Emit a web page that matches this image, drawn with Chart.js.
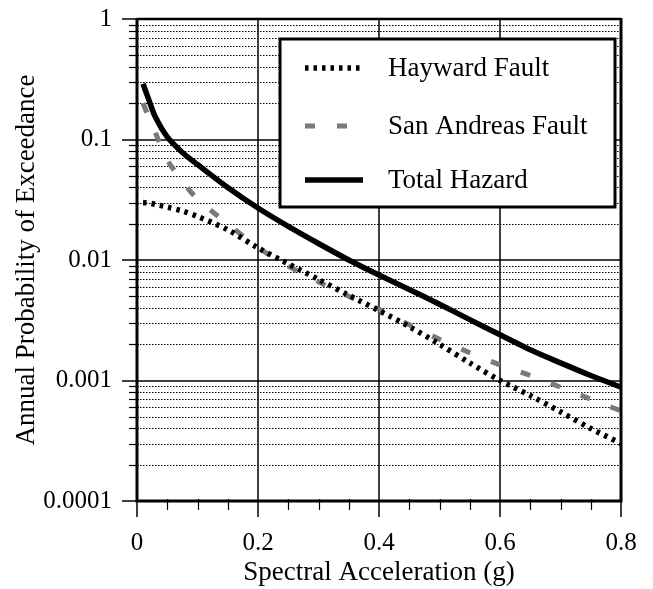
<!DOCTYPE html>
<html><head><meta charset="utf-8">
<script src="https://cdn.jsdelivr.net/npm/chart.js@4.4.0/dist/chart.umd.min.js"></script>
<style>html,body{margin:0;padding:0;background:#fff;} canvas{display:block}</style>
</head><body>
<canvas id="c" width="653" height="589"></canvas>
<script>
// ---- data ----
const accel = [0.01,0.02,0.03,0.05,0.075,0.1,0.15,0.2,0.25,0.3,0.35,0.4,0.45,0.5,0.55,0.6,0.65,0.7,0.75,0.8];
const hayward = [0.030,0.0297,0.029,0.0275,0.0255,0.0230,0.0178,0.0126,0.0093,0.0069,0.0051,0.0038,0.0028,0.0020,0.0014,0.0010,0.00075,0.00055,0.00040,0.00030];
const sanAndreas = [0.20,0.15,0.115,0.068,0.045,0.032,0.020,0.0127,0.0089,0.0066,0.0050,0.0039,0.0029,0.0022,0.0017,0.00135,0.0011,0.00088,0.0007,0.00056];
const total = [0.29,0.21,0.155,0.105,0.078,0.062,0.040,0.027,0.019,0.0137,0.0100,0.0075,0.0057,0.0043,0.0032,0.0024,0.0018,0.0014,0.0011,0.00088];
const seriesNames = ['Hayward Fault','San Andreas Fault','Total Hazard'];
const xTicks = [0,0.2,0.4,0.6,0.8];
const xTickLabels = ['0','0.2','0.4','0.6','0.8'];
const xMinorStep = 0.05;
const yTicks = [1,0.1,0.01,0.001,0.0001];
const yTickLabels = ['1','0.1','0.01','0.001','0.0001'];
const xTitle = 'Spectral Acceleration (g)';
const yTitle = 'Annual Probability of Exceedance';

const SERIF = '"Liberation Serif", "Times New Roman", serif';

const yMinor = [];
for (let n = -4; n <= -1; n++) for (let k = 2; k <= 9; k++) yMinor.push(k * Math.pow(10, n));
const xMinor = [];
for (let i = 1; i * xMinorStep < 0.8 - 1e-9; i++) { if (i % 4 !== 0) xMinor.push(i * xMinorStep); }

const toXY = arr => arr.map((v, i) => ({x: accel[i], y: v}));

const paperGrid = {
  id: 'paperGrid',
  beforeDatasetsDraw(chart) {
    const {ctx, chartArea: a, scales: {x, y}} = chart;
    ctx.save();
    ctx.strokeStyle = '#000';
    ctx.lineWidth = 1;
    ctx.setLineDash([1.5, 1.5]);
    yMinor.forEach(v => {
      const py = Math.round(y.getPixelForValue(v)) + 0.5;
      ctx.beginPath(); ctx.moveTo(a.left, py); ctx.lineTo(a.right, py); ctx.stroke();
    });
    ctx.setLineDash([]);
    ctx.lineWidth = 1.5;
    yTicks.forEach(v => {
      const py = Math.round(y.getPixelForValue(v));
      ctx.beginPath(); ctx.moveTo(a.left, py); ctx.lineTo(a.right, py); ctx.stroke();
    });
    xTicks.forEach(v => {
      const px = Math.round(x.getPixelForValue(v));
      ctx.beginPath(); ctx.moveTo(px, a.top); ctx.lineTo(px, a.bottom); ctx.stroke();
    });
    ctx.restore();
  },
  afterDatasetsDraw(chart) {
    const {ctx, chartArea: a, scales: {x, y}} = chart;
    ctx.save();
    ctx.strokeStyle = '#000';
    ctx.setLineDash([]);
    ctx.lineWidth = 1.5;
    yTicks.forEach(v => {
      const py = Math.round(y.getPixelForValue(v));
      ctx.beginPath(); ctx.moveTo(a.left - 15, py); ctx.lineTo(a.left, py); ctx.stroke();
    });
    ctx.lineWidth = 1.2;
    yMinor.forEach(v => {
      const py = Math.round(y.getPixelForValue(v)) + 0.5;
      ctx.beginPath(); ctx.moveTo(a.left - 8, py); ctx.lineTo(a.left + 2, py); ctx.stroke();
    });
    ctx.lineWidth = 1.5;
    xTicks.forEach(v => {
      const px = Math.round(x.getPixelForValue(v));
      ctx.beginPath(); ctx.moveTo(px, a.bottom); ctx.lineTo(px, a.bottom + 16); ctx.stroke();
    });
    ctx.lineWidth = 1.2;
    xMinor.forEach(v => {
      const px = Math.round(x.getPixelForValue(v)) + 0.5;
      ctx.beginPath(); ctx.moveTo(px, a.bottom - 2); ctx.lineTo(px, a.bottom + 9); ctx.stroke();
    });
    ctx.lineWidth = 2.5;
    ctx.beginPath(); ctx.moveTo(a.left, a.top); ctx.lineTo(a.right, a.top); ctx.stroke();
    ctx.lineWidth = 3;
    ctx.beginPath(); ctx.moveTo(a.left, a.top - 1); ctx.lineTo(a.left, a.bottom); ctx.lineTo(a.right, a.bottom); ctx.lineTo(a.right, a.top - 1); ctx.stroke();

    const L = {left: 280, top: 39, right: 615, bottom: 207, rows: [68, 126, 180], x0: 305, x1: 363, tx: 388};
    ctx.fillStyle = '#fff';
    ctx.fillRect(L.left, L.top, L.right - L.left, L.bottom - L.top);
    ctx.lineWidth = 3;
    ctx.strokeRect(L.left, L.top, L.right - L.left, L.bottom - L.top);
    ctx.font = '27px ' + SERIF;
    ctx.textBaseline = 'middle';
    ctx.textAlign = 'left';
    chart.data.datasets.forEach((ds, i) => {
      const yy = L.rows[i];
      ctx.strokeStyle = ds.borderColor;
      ctx.lineWidth = ds.borderWidth;
      ctx.setLineDash(ds.borderDash || []);
      ctx.beginPath(); ctx.moveTo(L.x0, yy); ctx.lineTo(L.x1, yy); ctx.stroke();
      ctx.setLineDash([]);
      ctx.fillStyle = '#000';
      ctx.fillText(ds.label, L.tx, yy + 1);
    });
    ctx.restore();
  }
};

new Chart(document.getElementById('c'), {
  type: 'line',
  data: {
    datasets: [
      {label: seriesNames[0], data: toXY(hayward), borderColor: '#000', borderWidth: 5.5, borderDash: [3.5, 5], pointRadius: 0, tension: 0.3, fill: false},
      {label: seriesNames[1], data: toXY(sanAndreas), borderColor: '#7a7a7a', borderWidth: 5, borderDash: [10, 22], pointRadius: 0, tension: 0.3, fill: false},
      {label: seriesNames[2], data: toXY(total), borderColor: '#000', borderWidth: 5.5, pointRadius: 0, tension: 0.3, fill: false}
    ]
  },
  options: {
    responsive: false,
    devicePixelRatio: 1,
    animation: false,
    layout: {padding: {top: 19, right: 32, left: 0, bottom: 0}},
    plugins: {legend: {display: false}, tooltip: {enabled: false}},
    scales: {
      x: {
        type: 'linear', min: 0, max: 0.8,
        afterBuildTicks: s => { s.ticks = xTicks.map(v => ({value: v})); },
        afterFit: s => { s.height = 88; s.paddingRight = 0; s.paddingLeft = 0; },
        grid: {display: false, drawTicks: false},
        border: {display: false},
        ticks: {
          padding: 27, color: '#000', font: {family: SERIF, size: 25}, maxRotation: 0, autoSkip: false,
          callback: (v) => { const i = xTicks.findIndex(t => Math.abs(t - v) < 1e-9); return i >= 0 ? xTickLabels[i] : ''; }
        },
        title: {display: true, text: xTitle, color: '#000', font: {family: SERIF, size: 27}, padding: {top: 0, bottom: 0}}
      },
      y: {
        type: 'logarithmic', min: 0.0001, max: 1,
        afterBuildTicks: s => { s.ticks = yTicks.map(v => ({value: v})); },
        afterFit: s => { s.width = 137; s.paddingTop = 0; s.paddingBottom = 0; },
        grid: {display: false, drawTicks: false},
        border: {display: false},
        ticks: {
          padding: 25, color: '#000', font: {family: SERIF, size: 25}, autoSkip: false,
          callback: (v) => { const i = yTicks.findIndex(t => Math.abs(t - v) / t < 1e-6); return i >= 0 ? yTickLabels[i] : ''; }
        },
        title: {display: true, text: yTitle, color: '#000', font: {family: SERIF, size: 27}, padding: {top: 11, bottom: 0}}
      }
    }
  },
  plugins: [paperGrid]
});
</script>
</body></html>
